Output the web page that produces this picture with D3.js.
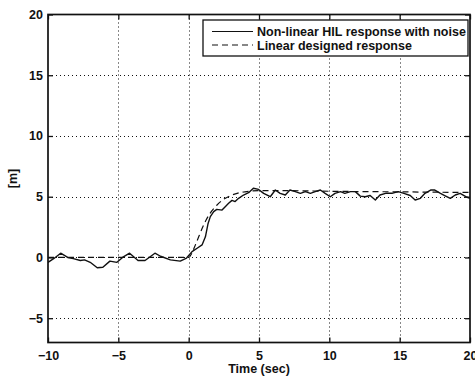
<!DOCTYPE html>
<html>
<head>
<meta charset="utf-8">
<script src="https://cdn.jsdelivr.net/npm/d3@7"></script>
<style>
  html, body { margin: 0; padding: 0; background: #fff; }
  svg { display: block; }
  text { font-family: "Liberation Sans", Arial, Helvetica, sans-serif; fill: #111; font-weight: bold; }
</style>
</head>
<body>
<svg id="chart" width="475" height="382"></svg>
<script>
// ---- data ----
const noisyTime = [-10, -9.6, -9.1, -8.6, -8.2, -7.7, -7.4, -7.0, -6.5, -6.1, -5.6, -5.1, -4.7, -4.2, -3.6, -3.1, -2.4, -2.0, -1.3, -0.6, -0.15,
  0.24, 0.6, 0.95, 1.19, 1.38, 1.54, 1.78, 2.0, 2.37, 2.6, 2.84, 3.08, 3.3, 3.55, 3.9, 4.26, 4.6, 4.97, 5.33, 5.8,
  6.16, 6.5, 6.87, 7.2, 7.58, 7.94, 8.3, 8.65, 9.0, 9.36, 9.7, 10.07, 10.4, 10.8, 11.1, 11.5, 11.85, 12.2, 12.55, 12.9,
  13.27, 13.6, 14.0, 14.45, 14.9, 15.3, 15.75, 16.1, 16.47, 16.8, 17.2, 17.5, 17.9, 18.2, 18.6, 18.95, 19.3, 19.7, 20];
const noisyValue = [-0.4, -0.1, 0.35, 0.0, -0.1, -0.25, -0.2, -0.4, -0.85, -0.8, -0.3, -0.4, 0.0, 0.35, -0.25, -0.25, 0.35, 0.1, -0.2, -0.3, -0.05,
  0.48, 0.76, 1.03, 1.7, 2.8, 3.36, 3.77, 3.96, 3.9, 4.18, 4.46, 4.7, 4.6, 4.87, 5.14, 5.33, 5.7, 5.6, 5.28, 5.0,
  5.55, 5.28, 5.14, 5.55, 5.42, 5.28, 5.42, 5.28, 5.42, 5.55, 5.28, 5.0, 5.28, 5.42, 5.28, 5.42, 5.42, 5.05, 5.0, 5.1,
  4.73, 5.14, 5.28, 5.28, 5.42, 5.28, 5.1, 4.73, 4.87, 5.28, 5.55, 5.55, 5.28, 5.1, 4.87, 5.14, 5.28, 5.0, 4.87];

const linearTime  = [-10, 0, 0.25, 0.5, 0.75, 1.0, 1.25, 1.5, 2.0, 2.5, 3.0, 3.5, 4.0, 5.0, 7.0, 10.0, 15.0, 20.0];
const linearValue = [0, 0, 0.4, 1.1, 1.8, 2.5, 3.1, 3.6, 4.3, 4.8, 5.1, 5.3, 5.4, 5.5, 5.5, 5.45, 5.4, 5.35];

const xTicks = [-10, -5, 0, 5, 10, 15, 20];
const yTicks = [-5, 0, 5, 10, 15, 20];
const xDomain = [-10, 20];
const yDomain = [-7, 20];
const seriesNames = ["Non-linear HIL response with noise", "Linear designed response"];
const xLabel = "Time (sec)";
const yLabel = "[m]";

// ---- layout ----
const svg = d3.select("#chart");
const L = 48, R = 470, T = 14.5, B = 342.5;
const x = d3.scaleLinear().domain(xDomain).range([L, R]);
const y = d3.scaleLinear().domain(yDomain).range([B, T]);
const fmt = d => (d < 0 ? "\u2212" + Math.abs(d) : String(d));
const px = v => Math.round(v) + 0.5;

// grid
const grid = svg.append("g").attr("stroke", "#111").attr("stroke-width", 1).attr("stroke-dasharray", "1,3");
grid.selectAll(".gx").data(xTicks.filter(d => d > xDomain[0] && d < xDomain[1])).enter().append("line")
  .attr("x1", d => px(x(d))).attr("x2", d => px(x(d))).attr("y1", T).attr("y2", B);
grid.selectAll(".gy").data(yTicks.filter(d => d > yDomain[0] && d < yDomain[1])).enter().append("line")
  .attr("x1", L).attr("x2", R).attr("y1", d => px(y(d))).attr("y2", d => px(y(d)));

// data lines
svg.append("clipPath").attr("id", "clip").append("rect")
  .attr("x", L).attr("y", T).attr("width", R - L).attr("height", B - T);

const noisy = noisyTime.map((t, i) => [t, noisyValue[i]]);
const linear = linearTime.map((t, i) => [t, linearValue[i]]);

svg.append("path").datum(linear).attr("clip-path", "url(#clip)")
  .attr("fill", "none").attr("stroke", "#111").attr("stroke-width", 1.2).attr("stroke-dasharray", "6,4")
  .attr("d", d3.line().x(d => x(d[0])).y(d => y(d[1])).curve(d3.curveMonotoneX));
svg.append("path").datum(noisy).attr("clip-path", "url(#clip)")
  .attr("fill", "none").attr("stroke", "#111").attr("stroke-width", 1.4).attr("stroke-linejoin", "round")
  .attr("d", d3.line().x(d => x(d[0])).y(d => y(d[1])));

// axes (ticks inward)
const tickLen = 5;
const axB = svg.append("g").attr("transform", `translate(0,${B})`)
  .call(d3.axisBottom(x).tickValues(xTicks).tickFormat(fmt).tickSizeInner(-tickLen).tickSizeOuter(0).tickPadding(9));
const axT = svg.append("g").attr("transform", `translate(0,${T})`)
  .call(d3.axisTop(x).tickValues(xTicks).tickFormat("").tickSizeInner(-tickLen).tickSizeOuter(0));
const axL = svg.append("g").attr("transform", `translate(${L},0)`)
  .call(d3.axisLeft(y).tickValues(yTicks).tickFormat(fmt).tickSizeInner(-tickLen).tickSizeOuter(0).tickPadding(5));
const axR = svg.append("g").attr("transform", `translate(${R},0)`)
  .call(d3.axisRight(y).tickValues(yTicks).tickFormat("").tickSizeInner(-tickLen).tickSizeOuter(0));
[axB, axT, axL, axR].forEach(a => {
  a.select(".domain").remove();
  a.selectAll(".tick line").attr("stroke", "#111").attr("stroke-width", 1.3);
  a.selectAll(".tick text").attr("font-size", 12.5).attr("fill", "#111").attr("font-weight", "bold")
    .attr("font-family", '"Liberation Sans", Arial, sans-serif');
});

// box
svg.append("rect").attr("x", L).attr("y", T).attr("width", R - L).attr("height", B - T)
  .attr("fill", "none").attr("stroke", "#111").attr("stroke-width", 1.7);

// labels
svg.append("text").attr("x", (L + R) / 2).attr("y", 373).attr("text-anchor", "middle")
  .attr("font-size", 12.5).text(xLabel);
svg.append("text").attr("transform", `translate(17,${(T + B) / 2}) rotate(-90)`).attr("text-anchor", "middle")
  .attr("font-size", 12.5).text(yLabel);

// legend
const lg = svg.append("g");
lg.append("rect").attr("x", 203).attr("y", 20).attr("width", 265).attr("height", 36)
  .attr("fill", "#fff").attr("stroke", "#111").attr("stroke-width", 1.3);
const rows = [31.5, 45];
lg.append("line").attr("x1", 212).attr("x2", 253).attr("y1", rows[0]).attr("y2", rows[0])
  .attr("stroke", "#111").attr("stroke-width", 1.2);
lg.append("line").attr("x1", 212).attr("x2", 253).attr("y1", rows[1]).attr("y2", rows[1])
  .attr("stroke", "#111").attr("stroke-width", 1.2).attr("stroke-dasharray", "6,4");
seriesNames.forEach((s, i) => {
  lg.append("text").attr("x", 257).attr("y", rows[i] + 4.5).attr("font-size", 12.5).text(s);
});
</script>
</body>
</html>
